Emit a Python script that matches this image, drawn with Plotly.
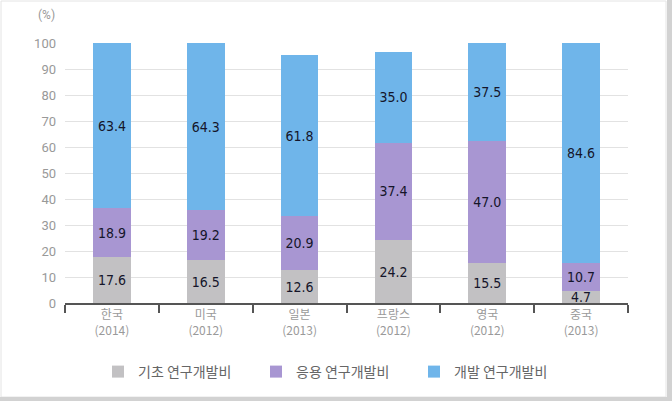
import plotly.graph_objects as go

categories = ["한국<br>(2014)", "미국<br>(2012)", "일본<br>(2013)", "프랑스<br>(2012)", "영국<br>(2012)", "중국<br>(2013)"]
basic = [17.6, 16.5, 12.6, 24.2, 15.5, 4.7]
applied = [18.9, 19.2, 20.9, 37.4, 47.0, 10.7]
development = [63.4, 64.3, 61.8, 35.0, 37.5, 84.6]
series_names = ["기초 연구개발비", "응용 연구개발비", "개발 연구개발비"]
y_ticks = [0, 10, 20, 30, 40, 50, 60, 70, 80, 90, 100]

colors = ["#c2c1c3", "#a896d2", "#6fb5ea"]

W, H = 672, 401
L, R, T, B = 65, 44, 43, 98
pw, ph = W - L - R, H - T - B


def px_x(x):
    return (x - L) / pw


def px_y(y):
    return (H - B - y) / ph


label_font = dict(family="DejaVu Sans Condensed, Liberation Sans Narrow, DejaVu Sans", size=14, color="#15152a")

fig = go.Figure()
for name, vals, col in zip(series_names, [basic, applied, development], colors):
    fig.add_trace(go.Bar(
        x=categories, y=vals, name=name,
        marker=dict(color=col, line=dict(width=0)),
        text=[f"{v:.1f}" for v in vals],
        textposition="inside", insidetextanchor="middle",
        textangle=0, constraintext="none",
        textfont=label_font,
    ))

fig.update_layout(
    width=W, height=H,
    barmode="stack", bargap=0.6,
    margin=dict(l=L, r=R, t=T, b=B, autoexpand=False),
    paper_bgcolor="white", plot_bgcolor="white",
    font=dict(family="Noto Sans CJK KR, Roboto, sans-serif", color="#999999", size=12),
    legend=dict(
        orientation="h", x=px_x(335), xanchor="center", y=px_y(372), yanchor="middle",
        font=dict(size=14, color="#666666", family="Noto Sans CJK KR"),
        entrywidth=113, itemwidth=30, traceorder="normal",
    ),
    showlegend=True,
)

fig.update_xaxes(
    type="category",
    showline=True, linecolor="#555555", linewidth=2,
    ticks="outside", tickson="boundaries", ticklen=8, tickcolor="#555555", tickwidth=2,
    tickfont=dict(size=12, color="#9a9a9a", family="Noto Sans CJK KR"),
    showgrid=False, fixedrange=True,
)
fig.update_yaxes(
    range=[0, 100], tickvals=y_ticks,
    showgrid=True, gridcolor="#e2e2e2", gridwidth=1,
    zeroline=False, showline=False, ticks="",
    tickfont=dict(size=13, color="#999999", family="Roboto"),
    ticklabelstandoff=8,
)

fig.add_annotation(
    text="(%)", xref="paper", yref="paper", x=px_x(46), y=px_y(15),
    showarrow=False, font=dict(size=12, color="#999999", family="Roboto"),
    xanchor="center", yanchor="middle",
)

# frame around the figure
fig.add_shape(type="rect", xref="paper", yref="paper",
              x0=px_x(1), x1=px_x(666), y0=px_y(397), y1=px_y(1),
              line=dict(color="#e4e4e4", width=1), fillcolor="rgba(0,0,0,0)", layer="below")
fig.add_shape(type="rect", xref="paper", yref="paper",
              x0=px_x(667), x1=px_x(672), y0=px_y(401), y1=px_y(0),
              line=dict(width=0), fillcolor="#d2d2d2", layer="below")
fig.add_shape(type="rect", xref="paper", yref="paper",
              x0=px_x(0), x1=px_x(672), y0=px_y(401), y1=px_y(397),
              line=dict(width=0), fillcolor="#d2d2d2", layer="below")

fig.write_html("out.html")
